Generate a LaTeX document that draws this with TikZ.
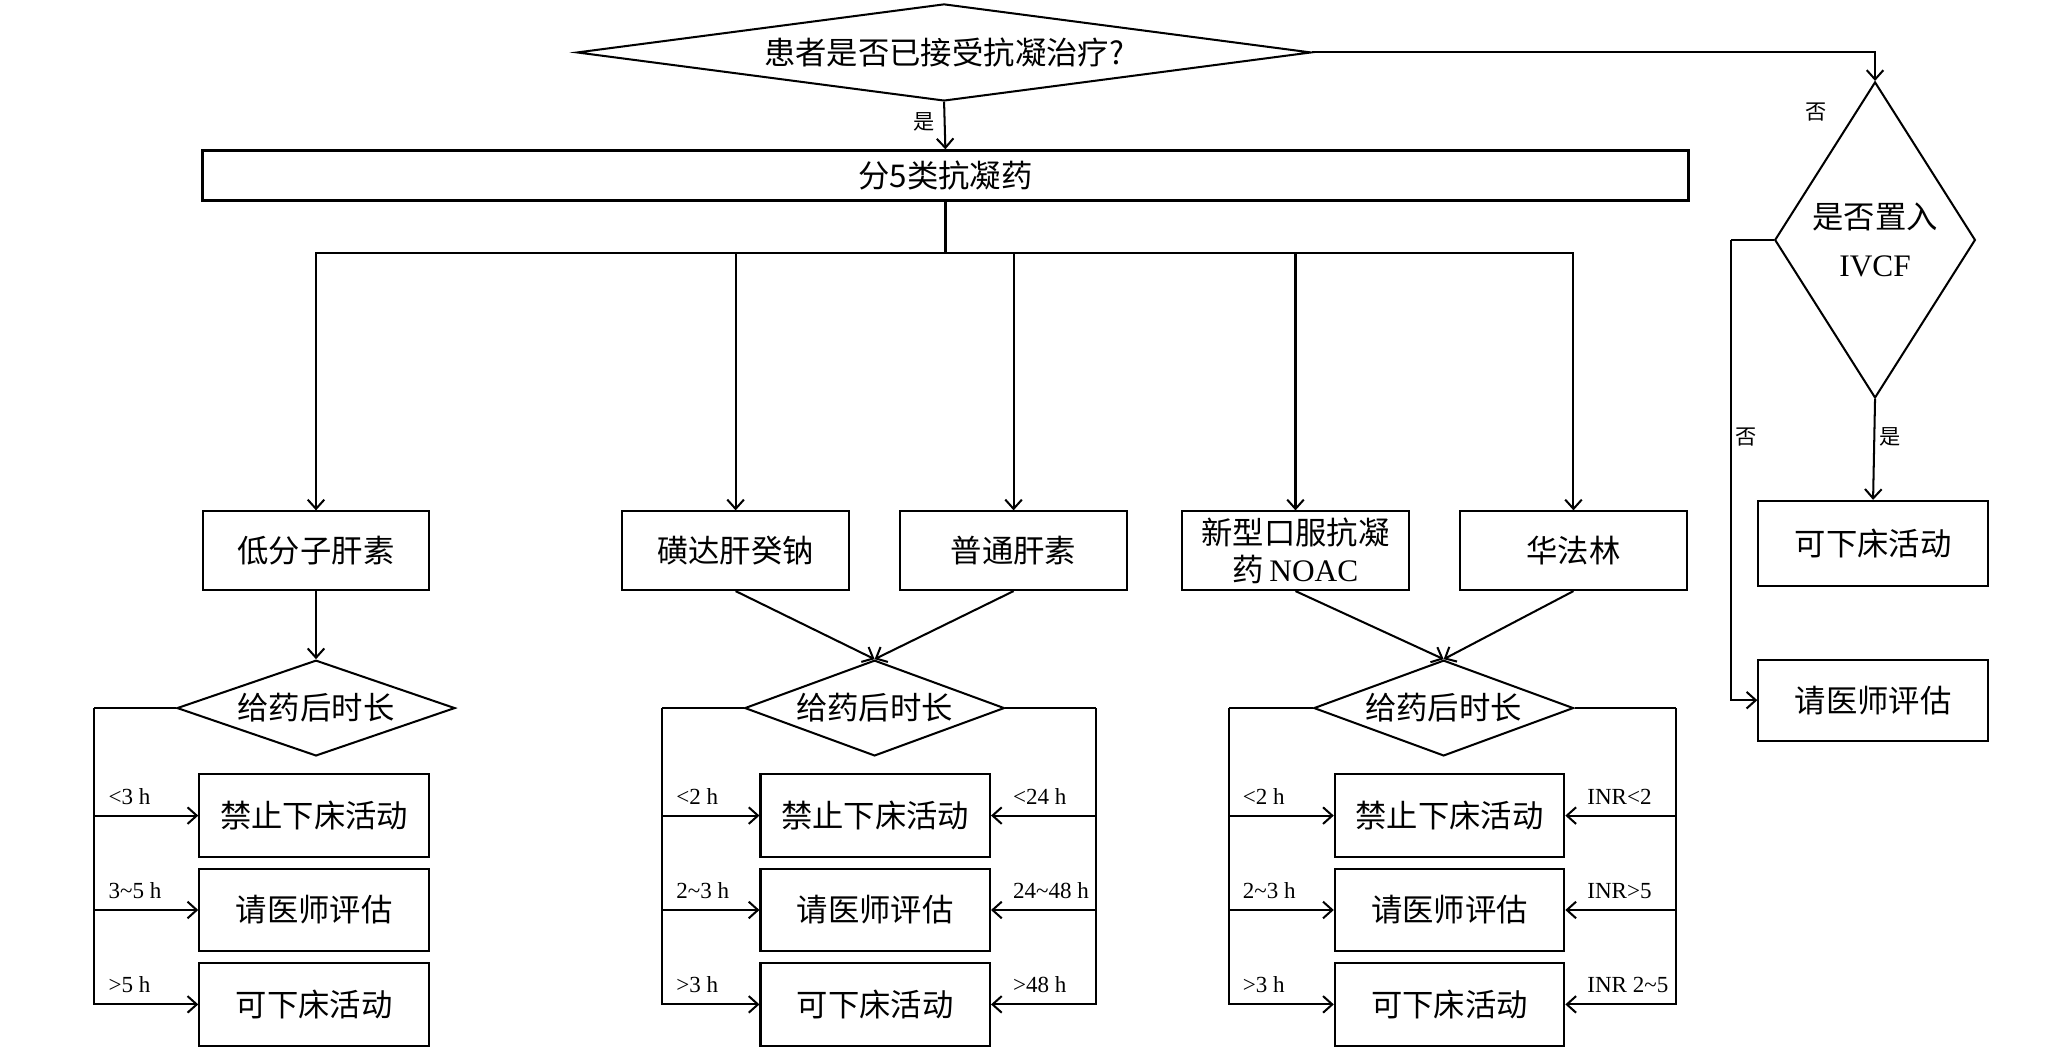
\documentclass[tikz,border=0pt]{standalone}
\usepackage{fontspec}
\setmainfont{Liberation Serif}
\newfontfamily\cjk{Noto Sans CJK SC}
\usetikzlibrary{shapes.geometric,arrows.meta}

\begin{document}
\begin{tikzpicture}[x=0.025cm,y=-0.025cm,line width=1.1pt,>={Straight Barb[length=5pt,width=9pt]},
	box_node/.style={draw,rectangle,inner sep=0pt,minimum width=4.375cm,minimum height=1.575cm,font=\cjk\fontsize{17}{20}\selectfont},
	mid_node/.style={box_node,minimum width=4.325cm,minimum height=1.5cm},
	dec_node/.style={draw,diamond,inner sep=0pt,aspect=2.7,minimum width=4.95cm,minimum height=1.825cm,font=\cjk\fontsize{17}{20}\selectfont},
	lbl_node/.style={inner sep=0pt,anchor=base west,yshift=0.22cm,font=\fontsize{12.5}{14}\selectfont},
	yn_node/.style={inner sep=2pt,font=\cjk\fontsize{11.5}{13}\selectfont}]
	\useasboundingbox (0,0) rectangle (1568,805);
	\node[dec_node,aspect=7.5,minimum width=14cm,minimum height=1.85cm] (1) at (720,40) {患者是否已接受抗凝治疗?};
	\node[box_node,minimum width=28.325cm,minimum height=0.95cm,line width=1.6pt] (2) at (721,134) {分5类抗凝药};
	\node[mid_node] (3) at (241,420) {低分子肝素};
	\node[mid_node] (4) at (561,420) {磺达肝癸钠};
	\node[mid_node] (5) at (773,420) {普通肝素};
	\node[mid_node,align=center] (6) at (988,420) {新型口服抗凝\\药\,{\rmfamily NOAC}};
	\node[mid_node] (7) at (1200,420) {华法林};
	\node[dec_node,aspect=2.9,minimum width=5.3cm] (8) at (241,540) {给药后时长};
	\node[dec_node] (9) at (667,540) {给药后时长};
	\node[dec_node] (10) at (1101,540) {给药后时长};
	\node[box_node] (11) at (239.5,622) {禁止下床活动};
	\node[box_node] (12) at (239.5,694) {请医师评估};
	\node[box_node] (13) at (239.5,766) {可下床活动};
	\node[box_node] (14) at (667.5,622) {禁止下床活动};
	\node[box_node] (15) at (667.5,694) {请医师评估};
	\node[box_node] (16) at (667.5,766) {可下床活动};
	\node[box_node] (17) at (1105.5,622) {禁止下床活动};
	\node[box_node] (18) at (1105.5,694) {请医师评估};
	\node[box_node] (19) at (1105.5,766) {可下床活动};
	\node[dec_node,aspect=0.63,minimum width=3.825cm,minimum height=6.025cm,align=center,font=\cjk\fontsize{17}{26}\selectfont] (20) at (1430,183) {是否置入\\{\rmfamily IVCF}};
	\node[box_node,minimum height=1.625cm] (21) at (1428.5,414.5) {可下床活动};
	\node[box_node,minimum height=1.55cm] (22) at (1428.5,534) {请医师评估};
	\coordinate (b) at (721,193);
	\coordinate (l1) at (72,540);
	\coordinate (l2) at (505,540);
	\coordinate (r2) at (836,540);
	\coordinate (l3) at (937,540);
	\coordinate (r3) at (1278,540);
	\coordinate (l4) at (1320,183);
	\draw[->] (1.south) -- (2.north) node[yn_node,pos=0.42,left,xshift=-0.1cm] {是};
	\draw[->] (1.east) -| (20.north) node[yn_node,pos=1,xshift=-1.125cm,yshift=-0.6cm] {否};
	\draw[line width=2pt] (2.south) -- (b);
	\draw[->] (b) -| (3.north);
	\draw[->] (b) -| (4.north);
	\draw[->] (b) -| (5.north);
	\draw[->] (b) -| (6.north);
	\draw[->] (b) -| (7.north);
	\draw[->] (3.south) -- (8.north);
	\draw[->] (4.south) -- (9.north);
	\draw[->] (5.south) -- (9.north);
	\draw[->] (6.south) -- (10.north);
	\draw[->] (7.south) -- (10.north);
	\draw (8.west) -- (l1);
	\draw[->] (l1) |- (11.west) node[lbl_node,pos=0.5,xshift=0.25cm] {<3 h};
	\draw[->] (l1) |- (12.west) node[lbl_node,pos=0.5,xshift=0.25cm] {3\textasciitilde 5 h};
	\draw[->] (l1) |- (13.west) node[lbl_node,pos=0.5,xshift=0.25cm] {>5 h};
	\draw (9.west) -- (l2);
	\draw[->] (l2) |- (14.west) node[lbl_node,pos=0.5,xshift=0.25cm] {<2 h};
	\draw[->] (l2) |- (15.west) node[lbl_node,pos=0.5,xshift=0.25cm] {2\textasciitilde 3 h};
	\draw[->] (l2) |- (16.west) node[lbl_node,pos=0.5,xshift=0.25cm] {>3 h};
	\draw (9.east) -- (r2);
	\draw[->] (r2) |- (14.east) node[lbl_node,pos=1,xshift=0.4cm] {<24 h};
	\draw[->] (r2) |- (15.east) node[lbl_node,pos=1,xshift=0.4cm] {24\textasciitilde 48 h};
	\draw[->] (r2) |- (16.east) node[lbl_node,pos=1,xshift=0.4cm] {>48 h};
	\draw (10.west) -- (l3);
	\draw[->] (l3) |- (17.west) node[lbl_node,pos=0.5,xshift=0.25cm] {<2 h};
	\draw[->] (l3) |- (18.west) node[lbl_node,pos=0.5,xshift=0.25cm] {2\textasciitilde 3 h};
	\draw[->] (l3) |- (19.west) node[lbl_node,pos=0.5,xshift=0.25cm] {>3 h};
	\draw (10.east) -- (r3);
	\draw[->] (r3) |- (17.east) node[lbl_node,pos=1,xshift=0.4cm] {INR<2};
	\draw[->] (r3) |- (18.east) node[lbl_node,pos=1,xshift=0.4cm] {INR>5};
	\draw[->] (r3) |- (19.east) node[lbl_node,pos=1,xshift=0.4cm] {INR 2\textasciitilde 5};
	\draw (20.west) -- (l4);
	\draw[->] (l4) |- (22.west) node[yn_node,pos=0.214,right] {否};
	\draw[->] (20.south) -- (21.north) node[yn_node,pos=0.38,right] {是};
\end{tikzpicture}
\end{document}
